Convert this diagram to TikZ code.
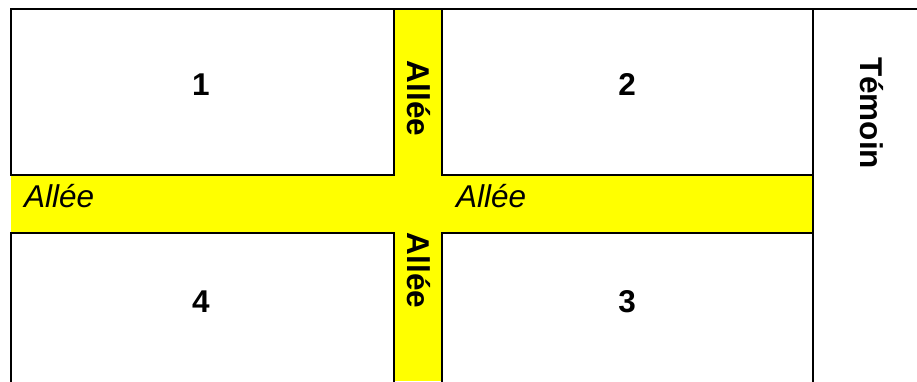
\documentclass[tikz,border=0pt]{standalone}
\usepackage{fontspec}
\setmainfont{Liberation Sans}
\begin{document}
\begin{tikzpicture}[x=1pt,y=-1pt,
  wall/.style={line width=2pt,line cap=rect},
  road/.style={fill={rgb,255:red,255;green,255;blue,0}},
  lbl/.style={inner sep=0pt,font=\fontsize{31.5}{36}\selectfont\bfseries},
  ital/.style={inner sep=0pt,anchor=base west,font=\fontsize{31.5}{36}\selectfont\itshape}]
\useasboundingbox (0,0) rectangle (917,381);
% roads
\fill[road] (394,9) rectangle (442,381);
\fill[road] (11,175.3) rectangle (813,232.7);
% walls
\draw[wall] (11,381) -- (11,232.7) -- (394,232.7) -- (394,381);
\draw[wall] (11,175.3) -- (11,9) -- (917,9);
\draw[wall] (11,175.3) -- (394,175.3) -- (394,9);
\draw[wall] (442,9) -- (442,175.3) -- (813,175.3);
\draw[wall] (442,381) -- (442,232.7) -- (813,232.7);
\draw[wall] (813,9) -- (813,381);
% plot labels
\node[lbl,anchor=base] (p1) at (201,95) {1};
\node[lbl,anchor=base] (p2) at (627,95) {2};
\node[lbl,anchor=base] (p3) at (627,312) {3};
\node[lbl,anchor=base] (p4) at (201,312) {4};
% alleys
\node[ital] (a1) at (24,207) {Allée};
\node[ital] (a2) at (456,207) {Allée};
\node[lbl,rotate=-90] (a3) at (419,98.5) {Allée};
\node[lbl,rotate=-90] (a4) at (419,270.5) {Allée};
\node[lbl,rotate=-90] (t) at (872,113) {Témoin};
\end{tikzpicture}
\end{document}
